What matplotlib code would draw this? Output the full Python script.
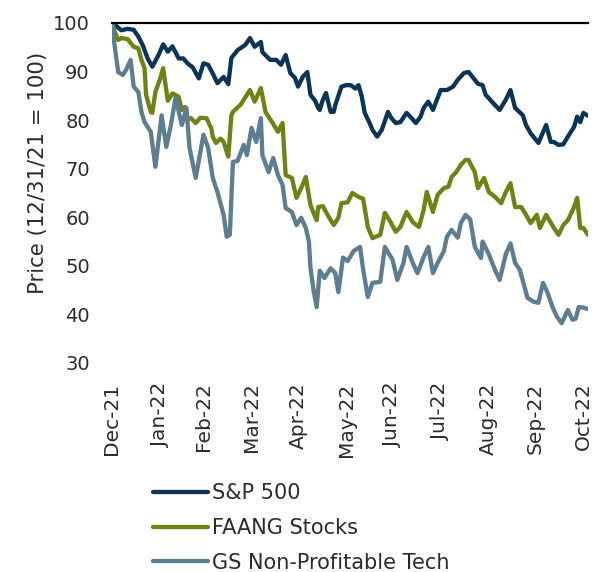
import pandas as pd
import matplotlib
matplotlib.use("Agg")
import matplotlib.pyplot as plt
import matplotlib.dates as mdates

# days since 12/31/21 and index level (12/31/21 = 100)
sp_days = [0, 2, 6, 10, 14, 17, 20, 23, 26, 30, 33, 36, 39, 43, 46, 49, 52, 56, 59, 62,
           65, 68, 72, 75, 77, 81, 86, 89, 92, 96, 97, 102, 106, 109, 112, 115, 118, 120,
           123, 126, 128, 131, 133, 134, 136, 138, 141, 143, 144, 148, 151, 154, 157, 159,
           161, 163, 166, 168, 171, 174, 178, 180, 183, 186, 190, 193, 196, 199, 201, 204,
           207, 212, 216, 220, 223, 227, 230, 233, 236, 239, 241, 245, 250, 254, 257, 260,
           265, 267, 270, 272, 275, 280, 283, 285, 288, 291, 294, 298, 300, 302, 304, 307]
sp_vals = [100, 99.6, 98.5, 98.8, 98.6, 97.2, 95.3, 92.7, 91.0, 93.4, 95.6, 94.1, 95.2,
           92.7, 92.7, 91.6, 90.9, 88.6, 91.7, 91.4, 89.6, 87.6, 88.9, 87.4, 92.8, 94.4,
           95.5, 96.9, 95.1, 96.1, 94.0, 92.4, 92.4, 91.4, 93.4, 89.7, 88.7, 86.9, 88.9,
           89.9, 85.2, 84.0, 82.5, 82.1, 84.2, 85.6, 81.7, 81.7, 83.1, 86.9, 87.2, 87.2,
           86.5, 87.2, 85.0, 81.5, 79.5, 78.0, 76.6, 78.0, 81.7, 80.5, 79.4, 79.6, 81.5,
           80.5, 79.4, 80.7, 82.5, 83.8, 82.1, 86.2, 86.2, 86.9, 88.3, 89.7, 89.9, 88.7,
           87.5, 87.2, 85.2, 83.8, 82.1, 84.2, 86.2, 82.5, 81.0, 79.0, 77.3, 76.5, 75.3,
           79.0, 75.5, 75.5, 74.9, 75.0, 76.6, 78.6, 80.7, 79.6, 81.5, 80.9]

faang_days = [0, 2, 4, 6, 10, 14, 17, 19, 21, 22, 25, 26, 28, 31, 33, 36, 39, 43, 45, 47,
              49, 51, 54, 57, 61, 63, 64, 65, 67, 70, 72, 74, 75, 77, 78, 83, 87, 89, 92,
              96, 99, 103, 107, 110, 112, 116, 119, 122, 125, 128, 130, 132, 133, 136, 139,
              143, 146, 148, 152, 155, 159, 162, 165, 168, 173, 176, 179, 183, 186, 190, 194,
              198, 201, 203, 207, 210, 214, 217, 219, 222, 225, 228, 230, 232, 234, 236, 240,
              243, 247, 251, 254, 257, 260, 264, 267, 270, 274, 276, 280, 285, 288, 291, 294,
              298, 300, 302, 304, 307]
faang_vals = [100, 98.0, 96.5, 96.9, 96.7, 95.1, 94.8, 92.4, 90.7, 85.2, 81.7, 81.5, 85.8,
              88.5, 90.7, 84.0, 85.5, 84.8, 82.1, 82.7, 80.2, 80.4, 79.4, 80.5, 80.4, 79.0,
              78.4, 76.6, 75.3, 76.2, 75.5, 73.5, 72.5, 81.0, 81.7, 83.2, 85.2, 86.2, 83.8,
              86.6, 81.7, 79.7, 77.6, 79.4, 68.7, 68.1, 64.0, 66.0, 68.3, 62.5, 60.9, 59.4,
              62.1, 62.3, 60.5, 58.4, 59.9, 62.9, 63.1, 65.0, 64.2, 63.8, 58.0, 55.7, 56.4,
              60.9, 59.4, 57.0, 58.0, 61.1, 59.0, 58.0, 61.5, 65.2, 61.1, 64.6, 66.0, 66.3,
              68.3, 69.3, 70.8, 71.8, 71.8, 70.5, 69.3, 66.0, 68.1, 65.2, 64.2, 62.9, 65.2,
              67.0, 62.1, 62.1, 60.5, 58.8, 60.5, 57.8, 60.5, 57.8, 56.4, 58.4, 59.4, 62.1,
              64.0, 57.8, 57.8, 56.4]

gs_days = [0, 1, 4, 7, 9, 12, 14, 17, 19, 21, 25, 28, 32, 35, 38, 41, 45, 48, 50, 54, 59,
           62, 65, 68, 72, 74, 76, 78, 81, 85, 87, 90, 93, 96, 97, 101, 104, 107, 110, 112,
           116, 119, 122, 125, 127, 128, 130, 132, 134, 137, 141, 144, 146, 149, 152, 156,
           160, 162, 165, 168, 173, 176, 181, 184, 188, 190, 194, 197, 201, 204, 207, 210,
           214, 216, 219, 223, 225, 228, 231, 234, 238, 239, 243, 247, 250, 254, 257, 260,
           263, 268, 272, 275, 278, 281, 284, 287, 290, 294, 297, 299, 301, 304, 307]
gs_vals = [100, 97.0, 89.9, 89.3, 90.3, 92.4, 86.9, 85.8, 81.7, 79.6, 77.6, 70.4, 81.0,
           74.5, 79.0, 84.6, 79.0, 82.5, 74.3, 68.1, 77.0, 74.3, 68.1, 65.2, 60.5, 56.0,
           56.4, 71.4, 71.6, 74.9, 72.8, 78.4, 75.5, 80.4, 72.8, 69.3, 72.2, 68.7, 66.7,
           61.9, 61.1, 58.4, 59.9, 57.8, 55.0, 49.6, 45.0, 41.5, 49.0, 47.5, 49.5, 48.5,
           44.6, 51.7, 51.0, 53.1, 53.9, 49.2, 43.6, 46.5, 46.7, 53.9, 51.2, 47.1, 50.6,
           53.9, 50.6, 48.5, 51.8, 53.9, 48.5, 50.6, 53.0, 56.0, 57.4, 55.8, 58.8, 60.5,
           59.6, 53.9, 51.6, 55.0, 52.4, 49.2, 47.1, 52.4, 54.6, 50.6, 49.2, 43.4, 42.6,
           42.4, 46.5, 44.4, 41.6, 39.5, 38.2, 40.9, 38.9, 39.1, 41.5, 41.4, 41.1]

start = pd.Timestamp("2021-12-31")
ticks = pd.date_range(start, periods=11, freq=pd.offsets.MonthEnd())

series = [
    ("S&P 500", sp_days, sp_vals, "#0b3558"),
    ("FAANG Stocks", faang_days, faang_vals, "#6c8414"),
    ("GS Non-Profitable Tech", gs_days, gs_vals, "#5c7d92"),
]

plt.rcParams["font.family"] = ["DejaVu Sans"]
txt = "#2b2b2b"

fig = plt.figure(figsize=(6.06, 5.72), dpi=100)
ax = fig.add_axes([0.1848, 0.3654, 0.7855, 0.5944])

for name, days, vals, col in series:
    dates = start + pd.to_timedelta(days, unit="D")
    ax.plot(dates, vals, color=col, lw=3.1, label=name, solid_capstyle="round")

ax.set_ylim(30, 100)
ax.set_yticks(range(30, 101, 10))
ax.set_xlim(start, start + pd.Timedelta(days=307))
ax.set_xticks(ticks)
ax.xaxis.set_major_formatter(mdates.DateFormatter("%b-%y"))

for s in ["left", "right", "bottom"]:
    ax.spines[s].set_visible(False)
ax.spines["top"].set_color("black")
ax.spines["top"].set_linewidth(1.6)

ax.tick_params(axis="x", length=0, labelsize=14.5, labelcolor=txt, rotation=90)
ax.tick_params(axis="y", length=0, labelsize=14, labelcolor=txt)
ax.xaxis.set_tick_params(pad=14)
ax.yaxis.set_tick_params(pad=16)

fig.text(0.062, 0.698, "Price (12/31/21 = 100)", rotation=90, va="center", ha="center",
         fontsize=15.3, color=txt)

fig.legend(loc="upper left", bbox_to_anchor=(0.2525, 0.155), frameon=False,
           borderpad=0, borderaxespad=0, handlelength=2.65, handletextpad=0.2,
           labelspacing=0.7, fontsize=15, labelcolor=txt)

fig.savefig("out.png", dpi=100)
